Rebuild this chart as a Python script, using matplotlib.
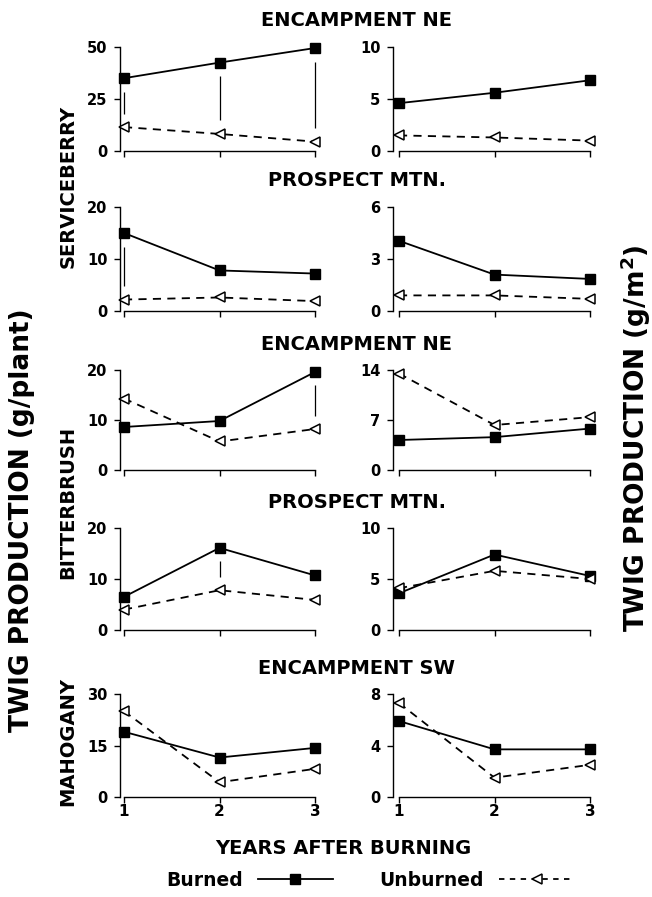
import matplotlib
matplotlib.use("Agg")
import matplotlib.pyplot as plt
from matplotlib.lines import Line2D

plt.rcParams['font.family'] = ['DejaVu Sans']
plt.rcParams['font.weight'] = 'bold'
plt.rcParams['mathtext.default'] = 'bf'

years = [1, 2, 3]

# serviceberry, Encampment NE
sb_enc_plant_burned = [35, 42.5, 49.5]
sb_enc_plant_unburned = [11.5, 8.2, 4.5]
sb_enc_area_burned = [4.6, 5.6, 6.8]
sb_enc_area_unburned = [1.5, 1.3, 1.0]
# serviceberry, Prospect Mtn.
sb_pro_plant_burned = [15, 7.8, 7.2]
sb_pro_plant_unburned = [2.2, 2.6, 1.9]
sb_pro_area_burned = [4.05, 2.1, 1.85]
sb_pro_area_unburned = [0.9, 0.9, 0.7]
# bitterbrush, Encampment NE
bb_enc_plant_burned = [8.6, 9.8, 19.6]
bb_enc_plant_unburned = [14.3, 5.7, 8.2]
bb_enc_area_burned = [4.2, 4.6, 5.8]
bb_enc_area_unburned = [13.5, 6.3, 7.4]
# bitterbrush, Prospect Mtn.
bb_pro_plant_burned = [6.5, 16.1, 10.7]
bb_pro_plant_unburned = [4.0, 7.8, 5.9]
bb_pro_area_burned = [3.6, 7.4, 5.3]
bb_pro_area_unburned = [4.1, 5.8, 5.0]
# mahogany, Encampment SW
mh_enc_plant_burned = [19, 11.5, 14.3]
mh_enc_plant_unburned = [25, 4.3, 8.2]
mh_enc_area_burned = [5.9, 3.7, 3.7]
mh_enc_area_unburned = [7.3, 1.5, 2.5]

site_titles = ['ENCAMPMENT NE', 'PROSPECT MTN.', 'ENCAMPMENT NE', 'PROSPECT MTN.', 'ENCAMPMENT SW']
plant_ticks = [[0, 25, 50], [0, 10, 20], [0, 10, 20], [0, 10, 20], [0, 15, 30]]
area_ticks = [[0, 5, 10], [0, 3, 6], [0, 7, 14], [0, 5, 10], [0, 4, 8]]
# years where burned and unburned differ (vertical marks, g/plant panels)
plant_sig = [[1, 2, 3], [1], [3], [2], []]

plant_data = [
    (sb_enc_plant_burned, sb_enc_plant_unburned),
    (sb_pro_plant_burned, sb_pro_plant_unburned),
    (bb_enc_plant_burned, bb_enc_plant_unburned),
    (bb_pro_plant_burned, bb_pro_plant_unburned),
    (mh_enc_plant_burned, mh_enc_plant_unburned),
]
area_data = [
    (sb_enc_area_burned, sb_enc_area_unburned),
    (sb_pro_area_burned, sb_pro_area_unburned),
    (bb_enc_area_burned, bb_enc_area_unburned),
    (bb_pro_area_burned, bb_pro_area_unburned),
    (mh_enc_area_burned, mh_enc_area_unburned),
]

W, H = 652, 897
fig = plt.figure(figsize=(W / 100, H / 100), dpi=100)

# pixel rows (top, bottom) of each panel
rows_px = [(47, 151), (207, 311), (370, 470), (528, 630), (694, 797)]
px_per_year = 95.5


def make_ax(left, right, top, bottom, x1_px):
    ax = fig.add_axes([left / W, 1 - bottom / H, (right - left) / W, (bottom - top) / H])
    x0 = 1 - (x1_px - left) / px_per_year
    ax.set_xlim(x0, x0 + (right - left) / px_per_year)
    return ax


def draw(ax, burned, unburned, ticks, sig, last):
    ymax = ticks[-1]
    ax.set_ylim(0, ymax)
    ax.plot(years, burned, color='black', lw=1.3, marker='s', ms=6.5,
            mfc='black', clip_on=False, zorder=3)
    ax.plot(years, unburned, color='black', lw=1.3, ls=(0, (4.5, 3.5)), marker='<',
            ms=7, mfc='white', mew=1.1, clip_on=False, zorder=3)
    gap = 0.13 * ymax
    for x in sig:
        i = years.index(x)
        ax.vlines(x, unburned[i] + gap, burned[i] - gap, color='black', lw=0.9)
    for s in ['top', 'right']:
        ax.spines[s].set_visible(False)
    ax.spines['left'].set_bounds(0, ymax)
    ax.spines['bottom'].set_bounds(1, 3)
    for s in ['left', 'bottom']:
        ax.spines[s].set_linewidth(1.0)
    ax.set_yticks(ticks)
    ax.set_xticks(years)
    ax.tick_params(axis='y', length=4, width=1.0, labelsize=10.5, pad=5)
    ax.tick_params(axis='x', length=4, width=1.0, labelsize=11, pad=1)
    if last:
        ax.set_xticklabels([str(y) for y in years])
    else:
        ax.set_xticklabels([])


for r in range(5):
    top, bottom = rows_px[r]
    axl = make_ax(120, 320, top, bottom, 124)
    draw(axl, plant_data[r][0], plant_data[r][1], plant_ticks[r], plant_sig[r], r == 4)
    axr = make_ax(393, 595, top, bottom, 399)
    draw(axr, area_data[r][0], area_data[r][1], area_ticks[r], [], r == 4)
    fig.text(357 / W, 1 - (top - 26) / H, site_titles[r], ha='center', va='center',
             fontsize=14, fontweight='bold')

species = [('SERVICEBERRY', 186), ('BITTERBRUSH', 502), ('MAHOGANY', 742)]
for name, ypx in species:
    fig.text(68 / W, 1 - ypx / H, name, rotation=90, ha='center', va='center',
             fontsize=14, fontweight='bold')

fig.text(22 / W, 1 - 520 / H, 'TWIG PRODUCTION (g/plant)', rotation=90,
         ha='center', va='center', fontsize=19, fontweight='bold')
fig.text(636 / W, 1 - 438 / H, r'TWIG PRODUCTION (g/m$^{\mathbf{2}}$)', rotation=90,
         ha='center', va='center', fontsize=19, fontweight='bold')

fig.text(343 / W, 1 - 848 / H, 'YEARS AFTER BURNING', ha='center', va='center',
         fontsize=14, fontweight='bold')

handles = [
    Line2D([], [], color='black', lw=1.3, marker='s', ms=6.5, mfc='black'),
    Line2D([], [], color='black', lw=1.3, ls=(0, (3, 3)), marker='<', ms=7,
           mfc='white', mew=1.1),
]
fig.legend(handles, ['Burned', 'Unburned'], ncol=2, markerfirst=False, frameon=False,
           loc='center', bbox_to_anchor=(370 / W, 1 - 880 / H), fontsize=13.5,
           handlelength=4.0, columnspacing=2.5, handletextpad=0.8)

fig.savefig('out.png', dpi=100)
